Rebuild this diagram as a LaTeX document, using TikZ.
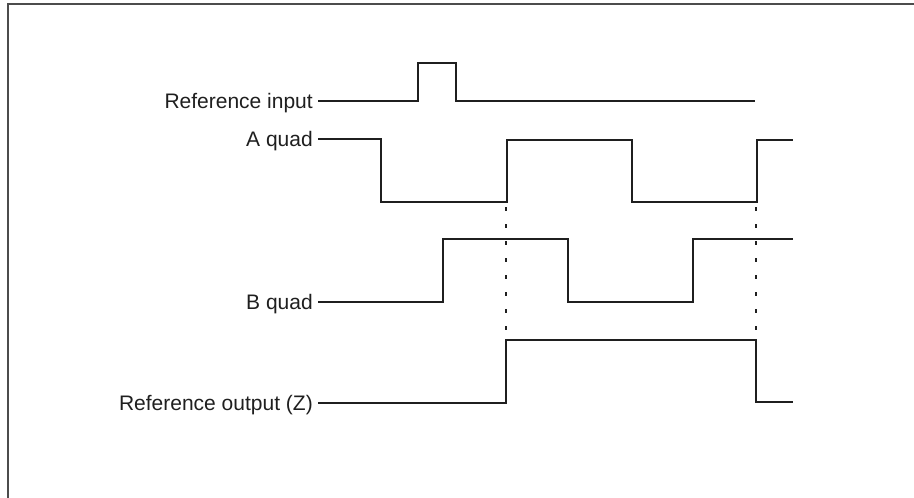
\documentclass[tikz,border=0pt]{standalone}
\usepackage{fontspec}
\setmainfont{Liberation Sans}
\begin{document}
\begin{tikzpicture}[x=1pt,y=-1pt,
  wave/.style={line width=2.1pt, color=black!88, line join=miter},
  guide/.style={line width=2.1pt, color=black!88, dash pattern=on 4pt off 13pt},
  sig/.style={anchor=base east, inner sep=0pt, font=\fontsize{21}{25}\selectfont, text=black!88},
  frame/.style={line width=2pt, color=black!70}]
\useasboundingbox (0,0) rectangle (914,498);
\draw[frame] (8,498) -- (8,3.5) -- (914,3.5);
% labels
\node[sig] (ri) at (313,108.5) {Reference input};
\node[sig] (aq) at (313,146.5) {A quad};
\node[sig] (bq) at (313,309.5) {B quad};
\node[sig] (zo) at (313,410.5) {Reference output (Z)};
% waveforms
\coordinate (riS) at (318,101);
\coordinate (aqS) at (318,139);
\coordinate (bqS) at (318,302);
\coordinate (zoS) at (318,403);
\draw[wave] (riS) -- (418,101) -- (418,63) -- (456,63) -- (456,101) -- (755,101);
\draw[wave] (aqS) -- (381,139) -- (381,202) -- (507,202) -- (507,140) -- (632,140) -- (632,202) -- (757,202) -- (757,140) -- (793,140);
\draw[wave] (bqS) -- (443,302) -- (443,239) -- (568,239) -- (568,302) -- (693,302) -- (693,239) -- (793,239);
\draw[wave] (zoS) -- (506,403) -- (506,340) -- (756,340) -- (756,402) -- (793,402);
% guides
\coordinate (g1a) at (506,207); \coordinate (g1b) at (506,336);
\coordinate (g2a) at (756,207); \coordinate (g2b) at (756,336);
\draw[guide] (g1a) -- (g1b);
\draw[guide] (g2a) -- (g2b);
\end{tikzpicture}
\end{document}
